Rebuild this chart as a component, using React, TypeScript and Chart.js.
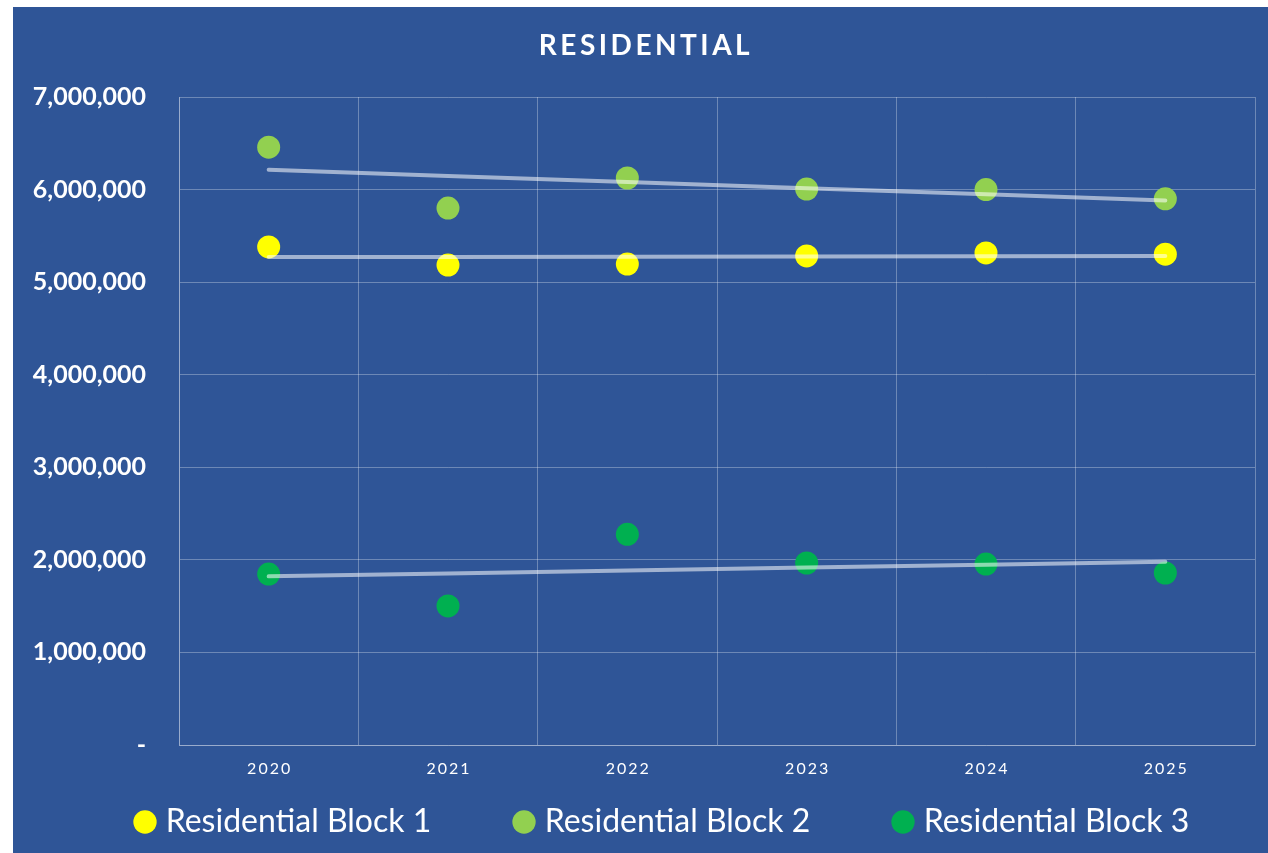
import React, { useEffect, useRef } from 'react';
import { Chart, registerables } from 'chart.js';

Chart.register(...registerables);

const years = ['2020', '2021', '2022', '2023', '2024', '2025'];
const block1 = [5380000, 5185000, 5195000, 5283000, 5315000, 5302000];
const block2 = [6458000, 5800000, 6125000, 6006000, 6000000, 5900000];
const block3 = [1847000, 1502000, 2276000, 1966000, 1955000, 1858000];
const seriesLabels = ['Residential Block 1', 'Residential Block 2', 'Residential Block 3'];
const seriesColors = ['#FFFF00', '#92D050', '#00B050'];
const titleText = 'RESIDENTIAL';
const yMax = 7000000;
const yStep = 1000000;

const BG = '#2F5597';
const GRID = 'rgba(255,255,255,0.3)';
const TREND = 'rgba(255,255,255,0.55)';
const FONT = 'Lato';

function linearTrend(values: number[]): number[] {
  const n = values.length;
  const mx = (n - 1) / 2;
  const my = values.reduce((a, b) => a + b, 0) / n;
  let sxy = 0;
  let sxx = 0;
  values.forEach((v, i) => {
    sxy += (i - mx) * (v - my);
    sxx += (i - mx) * (i - mx);
  });
  const b = sxy / sxx;
  return values.map((_, i) => my + b * (i - mx));
}

const LEGEND_FONT = 32;
const LEGEND_BOX_W = 9.4;
const LEGEND_BOX_H = 16.5;
const LEGEND_STEP = 379;
const LEGEND_TEXT_Y = 815;

function legendPadding(): number {
  const c = document.createElement('canvas');
  const ctx = c.getContext('2d');
  if (!ctx) return 80;
  ctx.font = `${LEGEND_FONT}px ${FONT}`;
  const w = ctx.measureText(seriesLabels[0]).width;
  return Math.max(10, LEGEND_STEP - LEGEND_BOX_W - LEGEND_FONT / 2 - w);
}

const tweaks = {
  id: 'tweaks',
  afterLayout(chart: any) {
    const lg = chart.legend;
    if (!lg) return;
    const p = lg.options.labels.padding;
    lg.top = LEGEND_TEXT_Y - LEGEND_FONT / 2 - p;
    lg.bottom = chart.height;
    lg.left = 127.3 - p;
    lg.right = 2000;
  },
  beforeDraw(chart: any) {
    const tb = chart.titleBlock;
    if (tb && !tb.__patched) {
      const orig = tb.draw;
      tb.draw = function (a: any) {
        const ctx = this.ctx;
        ctx.save();
        (ctx as any).letterSpacing = '3.5px';
        ctx.translate(12, 0);
        orig.call(this, a);
        ctx.restore();
      };
      tb.__patched = true;
    }
    const xs = chart.scales.x;
    if (xs && !xs.__patched) {
      const origL = xs.drawLabels;
      xs.drawLabels = function (a: any) {
        const ctx = this.ctx;
        ctx.save();
        (ctx as any).letterSpacing = '2px';
        ctx.translate(1, 0);
        origL.call(this, a);
        ctx.restore();
      };
      xs.__patched = true;
    }
  },
};

export default function App() {
  const ref = useRef<HTMLCanvasElement | null>(null);

  useEffect(() => {
    if (!ref.current) return;
    const pointSets = [block1, block2, block3].map((vals, i) => ({
      type: 'line' as const,
      label: seriesLabels[i],
      data: vals,
      showLine: false,
      pointRadius: 11.5,
      pointHoverRadius: 11.5,
      pointStyle: 'circle',
      pointBackgroundColor: seriesColors[i],
      backgroundColor: seriesColors[i],
      borderColor: seriesColors[i],
      pointBorderWidth: 0,
      borderWidth: 0,
      order: 1,
    }));
    const trendSets = [block1, block2, block3].map((vals, i) => ({
      type: 'line' as const,
      label: 'Linear (' + seriesLabels[i] + ')',
      data: linearTrend(vals),
      borderColor: TREND,
      backgroundColor: TREND,
      borderWidth: 4,
      borderCapStyle: 'round',
      pointRadius: 0,
      pointHoverRadius: 0,
      fill: false,
      tension: 0,
      order: 0,
    }));

    const chart = new Chart(ref.current, {
      type: 'line',
      data: { labels: years, datasets: [...pointSets, ...trendSets] as any },
      plugins: [tweaks],
      options: {
        animation: false,
        responsive: false,
        events: [],
        layout: { padding: { top: 0, left: 0, right: 13, bottom: 0 } },
        plugins: {
          tooltip: { enabled: false },
          title: {
            display: true,
            text: titleText,
            color: '#FFFFFF',
            font: { family: FONT, size: 28, weight: 'bold', lineHeight: 1.2 },
            padding: { top: 22, bottom: 34.4 },
          },
          legend: {
            display: true,
            position: 'bottom',
            align: 'start',
            maxHeight: 60,
            labels: {
              filter: (item: any) => item.datasetIndex < 3,
              usePointStyle: true,
              pointStyle: 'circle',
              boxWidth: LEGEND_BOX_W,
              boxHeight: LEGEND_BOX_H,
              color: '#FFFFFF',
              font: { family: FONT, size: LEGEND_FONT },
              padding: legendPadding(),
            },
          },
        },
        scales: {
          x: {
            type: 'category',
            offset: true,
            grid: { color: GRID, lineWidth: 1, offset: true, drawTicks: false },
            border: { display: true, color: GRID },
            ticks: {
              color: '#FFFFFF',
              font: { family: FONT, size: 16 },
              padding: 14,
              maxRotation: 0,
            },
            afterFit: (scale: any) => {
              scale.height = 48;
            },
          },
          y: {
            min: 0,
            max: yMax,
            grid: { color: GRID, lineWidth: 1, drawTicks: false },
            border: { display: true, color: GRID },
            ticks: {
              stepSize: yStep,
              color: '#FFFFFF',
              font: { family: FONT, size: 25, weight: 'bold' },
              padding: 33,
              callback: (v: any) => (Number(v) === 0 ? '-' : Number(v).toLocaleString('en-US')),
            },
            afterFit: (scale: any) => {
              scale.width = 166;
            },
          },
        },
      } as any,
    });
    return () => chart.destroy();
  }, []);

  return (
    <div
      style={{
        position: 'absolute',
        left: 13,
        top: 7,
        width: 1255,
        height: 846,
        background: BG,
      }}
    >
      <canvas ref={ref} width={1255} height={846} style={{ display: 'block' }} />
    </div>
  );
}
